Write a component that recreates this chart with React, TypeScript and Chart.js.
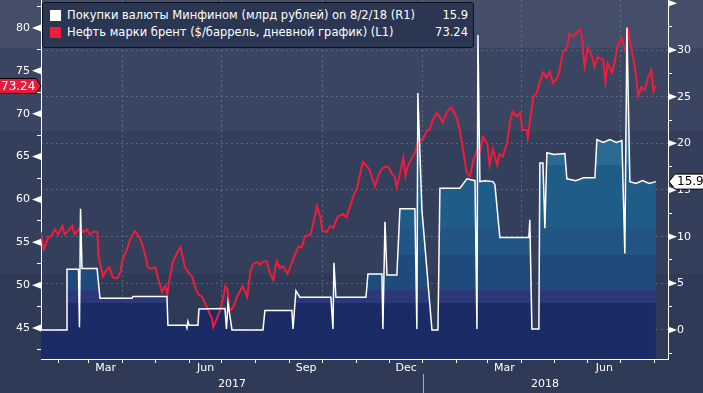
import React, { useEffect, useRef } from 'react';
import { Chart, registerables } from 'chart.js';

Chart.register(...registerables);

// ---- Data (x = days since 2017-01-01) ----
const brentDays = [
  15, 18, 22, 25, 28, 31, 35, 37, 40, 44,
  46, 51, 54, 57, 60, 63, 67, 68, 69, 72,
  76, 78, 81, 85, 88, 90, 94, 97, 101, 104,
  108, 111, 113, 117, 120, 122, 126, 129, 131, 133,
  136, 140, 143, 145, 147, 150, 154, 156, 159, 163,
  165, 168, 172, 173, 176, 179, 182, 184, 186, 188,
  191, 195, 197, 200, 204, 207, 209, 213, 216, 218,
  222, 225, 228, 231, 234, 237, 241, 246, 251, 254,
  257, 262, 264, 268, 271, 273, 277, 280, 283, 287,
  292, 295, 298, 301, 305, 307, 310, 314, 316, 319,
  321, 324, 327, 330, 333, 337, 339, 341, 344, 347,
  349, 351, 355, 358, 360, 362, 365, 369, 371, 374,
  378, 381, 383, 387, 390, 392, 396, 399, 402, 405,
  408, 411, 414, 417, 420, 424, 426, 429, 433, 435,
  438, 442, 445, 447, 451, 454, 456, 460, 461, 463,
  466, 469, 472, 475, 478, 481, 484, 488, 490, 493,
  497, 499, 502, 506, 509, 511, 512, 513, 516, 520,
  522, 525, 530, 532, 534, 538, 541, 543, 547, 550,
  553, 556, 559, 562, 565, 568, 571, 574, 576, 578,
];
const brentValues = [
  56.2, 54.2, 55.6, 55.7, 56.5, 55.9, 56.9, 55.9, 56.3, 56.9,
  55.9, 56.7, 56.2, 56.5, 55.9, 56.2, 56.2, 53.4, 52.8, 51.0,
  51.9, 52.1, 50.9, 50.8, 51.5, 53.0, 54.2, 55.3, 56.3, 55.9,
  54.8, 53.4, 52.1, 51.9, 52.1, 51.0, 49.2, 49.9, 49.0, 50.7,
  52.7, 53.8, 54.4, 53.3, 52.1, 51.5, 50.9, 49.9, 49.0, 48.6,
  48.0, 47.2, 46.0, 45.1, 46.0, 47.0, 48.4, 49.9, 49.5, 47.0,
  47.4, 48.7, 49.2, 49.9, 48.6, 51.5, 52.4, 52.7, 52.4, 52.7,
  52.8, 51.3, 50.6, 52.8, 52.0, 52.2, 51.3, 53.0, 54.5, 54.4,
  55.7, 55.9, 56.9, 59.2, 58.0, 56.3, 56.2, 56.9, 56.7, 58.0,
  58.3, 57.9, 59.1, 60.3, 61.5, 62.7, 64.4, 63.8, 63.5, 62.3,
  61.5, 62.7, 63.5, 63.8, 63.8, 62.9, 62.7, 61.4, 63.1, 64.9,
  62.7, 63.8, 64.9, 65.5, 66.6, 67.0, 67.0, 68.1, 68.1, 69.3,
  70.1, 69.5, 69.0, 70.2, 70.7, 70.5, 69.5, 67.9, 65.6, 63.1,
  62.7, 64.5, 65.6, 65.5, 67.3, 66.5, 64.0, 65.9, 64.0, 65.3,
  65.0, 66.6, 69.3, 70.2, 69.7, 70.1, 68.1, 68.1, 67.2, 69.3,
  72.0, 72.4, 73.7, 74.8, 74.2, 74.9, 73.6, 74.2, 75.1, 77.1,
  77.8, 79.4, 79.0, 79.5, 79.8, 78.6, 76.6, 75.5, 77.7, 76.6,
  75.5, 76.6, 76.3, 73.7, 75.9, 74.8, 76.3, 78.0, 78.8, 77.4,
  79.5, 77.4, 75.5, 72.0, 73.1, 72.8, 74.2, 75.1, 72.6, 73.24,
];

const mofDays = [
  15.3, 38.2, 39.1, 49.6, 50.5, 51.5, 52.8, 66.6, 69.3, 98.6,
  99.5, 130.6, 131.5, 148.0, 148.9, 149.8, 150.8, 159.0, 159.9, 183.7,
  185.1, 186.5, 190.1, 218.5, 220.3, 245.0, 246.0, 248.7, 252.4, 280.7,
  282.6, 283.5, 285.3, 312.8, 314.6, 327.4, 328.3, 330.2, 332.0, 341.1,
  343.9, 357.6, 359.4, 360.3, 364.0, 373.2, 378.7, 380.5, 398.8, 405.2,
  412.6, 414.4, 415.3, 417.1, 422.0, 429.0, 430.8, 435.4, 461.9, 462.8,
  464.7, 471.1, 472.0, 474.8, 476.6, 478.4, 485.0, 494.9, 496.7, 505.0,
  512.0, 522.4, 524.2, 530.0, 536.0, 542.0, 547.1, 549.8, 551.7, 554.4,
  560.0, 566.0, 572.0, 578.2,
];
const mofValues = [
  0, 0, 6.5, 6.5, 0.3, 13.0, 6.6, 6.6, 3.4, 3.4,
  3.6, 3.6, 0.5, 0.5, 0.2, 0.9, 0.5, 0.5, 2.25, 2.3,
  0.1, 2.9, 0, 0, 2.1, 2.1, 0.1, 4.2, 3.5, 3.5,
  0.1, 7.2, 3.5, 3.5, 6.0, 6.0, 0.1, 11.6, 5.9, 5.9,
  13.0, 13.0, 0.1, 25.4, 12.9, 0, 0, 15.2, 15.2, 16.2,
  16.0, 0.1, 31.6, 15.9, 16.0, 15.9, 15.6, 9.9, 9.9, 11.8,
  0.1, 0.1, 17.9, 17.9, 10.9, 19.0, 18.8, 18.9, 16.2, 16.0,
  16.3, 16.3, 20.4, 20.1, 20.4, 20.1, 20.3, 8.2, 32.4, 15.9,
  15.7, 16.0, 15.7, 15.9,
];

const monthStartDays = [31, 59, 90, 120, 151, 181, 212, 243, 273, 304, 334, 365, 396, 424, 455, 485, 516, 546, 577];
const quarterDays = [90, 181, 273, 365, 455, 546];
const monthLabels = ['Mar', 'Jun', 'Sep', 'Dec', 'Mar', 'Jun'];
const monthLabelDays = [74.5, 166, 258, 349.5, 439.5, 531];
const yearLabels = ['2017', '2018'];
const yearLabelDays = [190.1, 476.7];
const yearBreakDay = 365;
const leftTicks = [42.5, 45, 47.5, 50, 52.5, 55, 57.5, 60, 62.5, 65, 67.5, 70, 72.5, 75, 77.5, 80, 82.5];
const rightTicks = [-2.5, 0, 2.5, 5, 7.5, 10, 12.5, 15, 17.5, 20, 22.5, 25, 27.5, 30, 32.5, 35];
const lastBrent = 73.24;
const lastMof = 15.9;
const legendMof = 'Покупки валюты Минфином (млрд рублей) on 8/2/18 (R1)';
const legendBrent = 'Нефть марки брент ($/баррель, дневной график) (L1)';

const FONT = 'DejaVu Sans';
const GRID = 'rgba(105,135,165,0.6)';
const CLEAR = 'rgba(0,0,0,0)';

const bgPlugin = {
  id: 'bgBands',
  beforeDraw(chart: any) {
    const { ctx, width, height } = chart;
    const bands: [number, number, string][] = [
      [0, 48, '#444e68'],
      [48, 131, '#3a4661'],
      [131, 274, '#333f5b'],
      [274, height, '#2e3a56'],
    ];
    ctx.save();
    for (const [a, b, c] of bands) {
      ctx.fillStyle = c;
      ctx.fillRect(0, a, width, b - a);
    }
    ctx.restore();
  },
};

const overlayPlugin = {
  id: 'overlay',
  afterDraw(chart: any) {
    const { ctx } = chart;
    const yL = chart.scales.yL;
    const yR = chart.scales.yR;
    const x = chart.scales.x;
    const area = chart.chartArea;
    ctx.save();
    ctx.fillStyle = '#ffffff';
    for (const v of leftTicks) {
      if (v % 5 !== 0) continue;
      const y = yL.getPixelForValue(v);
      ctx.beginPath();
      ctx.moveTo(area.left, y - 3.5);
      ctx.lineTo(area.left - 9, y);
      ctx.lineTo(area.left, y + 3.5);
      ctx.closePath();
      ctx.fill();
    }
    for (const v of rightTicks) {
      if (v % 5 !== 0) continue;
      const y = yR.getPixelForValue(v);
      ctx.beginPath();
      ctx.moveTo(area.right, y - 3.5);
      ctx.lineTo(area.right + 9, y);
      ctx.lineTo(area.right, y + 3.5);
      ctx.closePath();
      ctx.fill();
    }
    // year separator
    const xb = Math.round(x.getPixelForValue(yearBreakDay)) + 0.5;
    ctx.strokeStyle = 'rgba(190,196,210,0.8)';
    ctx.lineWidth = 1;
    ctx.beginPath();
    ctx.moveTo(xb, 374);
    ctx.lineTo(xb, chart.height);
    ctx.stroke();

    // last value label left (Brent)
    const yb = yL.getPixelForValue(lastBrent);
    ctx.beginPath();
    ctx.moveTo(-1, yb - 7.5);
    ctx.lineTo(area.left - 5, yb - 7.5);
    ctx.lineTo(area.left, yb);
    ctx.lineTo(area.left - 5, yb + 7.5);
    ctx.lineTo(-1, yb + 7.5);
    ctx.closePath();
    ctx.fillStyle = '#ea1a3c';
    ctx.fill();
    ctx.strokeStyle = '#000';
    ctx.stroke();
    ctx.fillStyle = '#ffffff';
    ctx.font = `12px "${FONT}"`;
    ctx.textBaseline = 'middle';
    ctx.textAlign = 'left';
    ctx.fillText(lastBrent.toFixed(2), 1, yb + 0.5);

    // last value label right (MinFin)
    const ym = yR.getPixelForValue(lastMof);
    ctx.beginPath();
    ctx.moveTo(area.right + 1, ym);
    ctx.lineTo(area.right + 7, ym - 7.5);
    ctx.lineTo(chart.width + 1, ym - 7.5);
    ctx.lineTo(chart.width + 1, ym + 7.5);
    ctx.lineTo(area.right + 7, ym + 7.5);
    ctx.closePath();
    ctx.fillStyle = '#ffffff';
    ctx.fill();
    ctx.strokeStyle = '#000';
    ctx.stroke();
    ctx.fillStyle = '#000';
    ctx.fillText(lastMof.toFixed(1), area.right + 9, ym + 0.5);
    ctx.restore();
  },
};

function mofFill(c: any) {
  const chart = c.chart;
  const area = chart.chartArea;
  if (!area) return CLEAR;
  const h = area.bottom - area.top;
  const g = chart.ctx.createLinearGradient(0, area.top, 0, area.bottom);
  const bands: [number, number, string][] = [
    [0, 165, '#2a6b93'],
    [165, 227, '#1f5c88'],
    [227, 255, '#225584'],
    [255, 290, '#1f4a7c'],
    [290, 303, '#2b397a'],
    [303, h, '#1b2b66'],
  ];
  for (const [a, b, col] of bands) {
    g.addColorStop(Math.min(1, a / h), col);
    g.addColorStop(Math.min(1, b / h), col);
  }
  return g;
}

export default function App() {
  const ref = useRef<HTMLCanvasElement | null>(null);

  useEffect(() => {
    if (!ref.current) return;
    const chart = new Chart(ref.current, {
      type: 'line',
      data: {
        datasets: [
          {
            label: legendMof,
            data: mofDays.map((d, i) => ({ x: d, y: mofValues[i] })),
            yAxisID: 'yR',
            borderColor: '#ffffff',
            borderWidth: 1.5,
            pointRadius: 0,
            tension: 0,
            fill: 'start',
            backgroundColor: mofFill as any,
            order: 0,
          },
          {
            label: legendBrent,
            data: brentDays.map((d, i) => ({ x: d, y: brentValues[i] })),
            yAxisID: 'yL',
            borderColor: '#f01c3c',
            borderWidth: 2,
            pointRadius: 0,
            tension: 0,
            fill: false,
            order: 1,
          },
        ],
      },
      options: {
        animation: false,
        responsive: false,
        maintainAspectRatio: false,
        layout: { padding: 0 },
        plugins: {
          legend: { display: false },
          tooltip: { enabled: false },
          filler: { drawTime: 'beforeDatasetsDraw' },
        } as any,
        scales: {
          x: {
            type: 'linear',
            position: 'bottom',
            min: 15.3,
            max: 589.3,
            z: 1,
            afterBuildTicks: (s: any) => {
              const vals = [...monthStartDays, ...monthLabelDays, ...yearLabelDays];
              s.ticks = vals.map((v) => ({ value: v }));
            },
            afterFit: (s: any) => {
              s.height = 34;
              s.paddingLeft = 0;
              s.paddingRight = 0;
            },
            grid: {
              display: true,
              drawOnChartArea: true,
              drawTicks: true,
              tickLength: 4,
              lineWidth: 1,
              color: (c: any) => (c.tick && quarterDays.includes(c.tick.value) ? GRID : CLEAR),
              tickColor: (c: any) => (c.tick && monthStartDays.includes(c.tick.value) ? '#ffffff' : CLEAR),
            },
            border: { display: true, color: '#ffffff', width: 1, dash: [2, 3] },
            ticks: {
              autoSkip: false,
              maxRotation: 0,
              minRotation: 0,
              padding: -3,
              color: '#ffffff',
              font: { family: FONT, size: 11, lineHeight: '16px' } as any,
              callback: (value: any) => {
                const mi = monthLabelDays.indexOf(value);
                if (mi >= 0) return monthLabels[mi];
                const yi = yearLabelDays.indexOf(value);
                if (yi >= 0) return ['', yearLabels[yi]];
                return '';
              },
            },
          },
          yL: {
            type: 'linear',
            position: 'left',
            min: 41.38,
            max: 83.27,
            z: 1,
            afterBuildTicks: (s: any) => {
              s.ticks = leftTicks.map((v) => ({ value: v }));
            },
            afterFit: (s: any) => {
              s.width = 41;
              s.paddingTop = 0;
              s.paddingBottom = 0;
            },
            grid: {
              display: true,
              drawOnChartArea: false,
              drawTicks: true,
              tickLength: 4,
              tickColor: '#ffffff',
            },
            border: { display: true, color: '#ffffff', width: 1 },
            ticks: {
              padding: 7,
              color: '#ffffff',
              font: { family: FONT, size: 11 },
              callback: (value: any) => (value % 5 === 0 ? String(value) : ''),
            },
          },
          yR: {
            type: 'linear',
            position: 'right',
            min: -3.11,
            max: 35.36,
            z: 1,
            afterBuildTicks: (s: any) => {
              s.ticks = rightTicks.map((v) => ({ value: v }));
            },
            afterFit: (s: any) => {
              s.width = 35;
              s.paddingTop = 0;
              s.paddingBottom = 0;
            },
            grid: {
              display: true,
              drawOnChartArea: true,
              drawTicks: true,
              tickLength: 4,
              color: (c: any) => (c.tick && c.tick.value % 5 === 0 && c.tick.value < 35 ? GRID : CLEAR),
              tickColor: '#ffffff',
            },
            border: { display: true, color: '#ffffff', width: 1, dash: [2, 3] },
            ticks: {
              padding: 5,
              color: '#ffffff',
              font: { family: FONT, size: 11 },
              callback: (value: any) => (value % 5 === 0 && value < 35 ? String(value) : ''),
            },
          },
        },
      } as any,
      plugins: [bgPlugin, overlayPlugin],
    });
    return () => chart.destroy();
  }, []);

  const row = (color: string, text: string, value: string, top: number) => (
    <div style={{ position: 'absolute', left: 0, top, width: '100%', height: 17 }}>
      <div style={{ position: 'absolute', left: 7, top: 3, width: 11, height: 11, background: color }} />
      <span style={{ position: 'absolute', left: 24, top: 0, lineHeight: '17px', whiteSpace: 'nowrap' }}>{text}</span>
      <span style={{ position: 'absolute', right: 5, top: 0, lineHeight: '17px' }}>{value}</span>
    </div>
  );

  return (
    <div style={{ position: 'fixed', left: 0, top: 0, width: 703, height: 393, overflow: 'hidden' }}>
      <canvas ref={ref} width={703} height={393} style={{ display: 'block', width: 703, height: 393 }} />
      <div
        style={{
          position: 'absolute',
          left: 42,
          top: 2,
          width: 430,
          height: 44,
          background: '#2b3653',
          border: '1px solid #0c1018',
          borderRadius: 3,
          color: '#ffffff',
          fontFamily: FONT,
          fontSize: 11.5,
        }}
      >
        {row('#ffffff', legendMof, lastMof.toFixed(1), 4)}
        {row('#f01c3c', legendBrent, lastBrent.toFixed(2), 21)}
      </div>
    </div>
  );
}
